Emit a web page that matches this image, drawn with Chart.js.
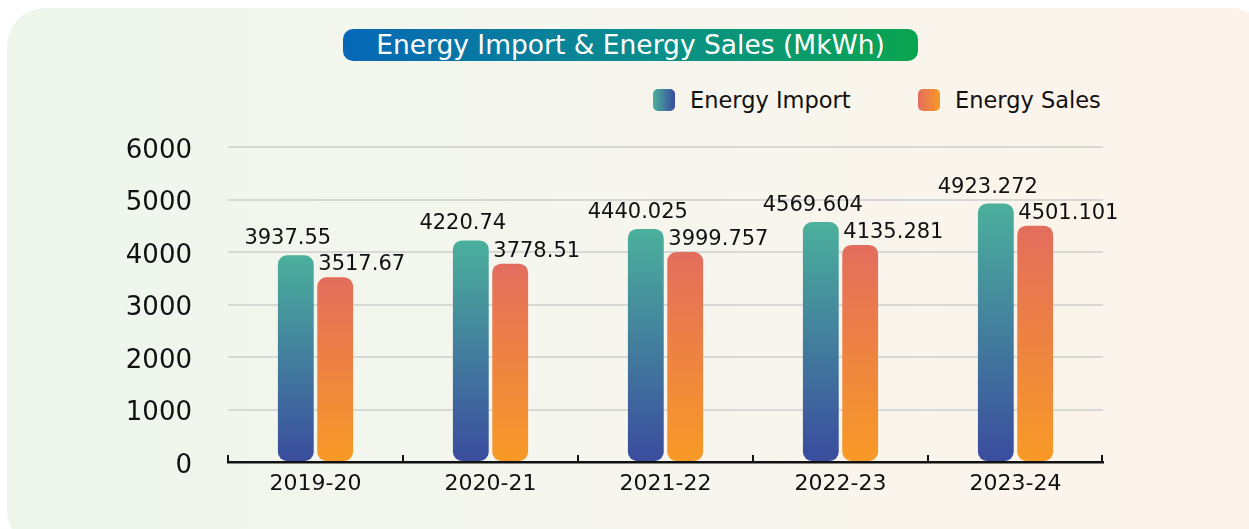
<!DOCTYPE html>
<html>
<head>
<meta charset="utf-8">
<script src="https://cdn.jsdelivr.net/npm/chart.js@4.4.1/dist/chart.umd.min.js"></script>
<style>
  html, body { margin: 0; padding: 0; background: #fff; }
  body { width: 1249px; height: 529px; overflow: hidden; position: relative; font-family: 'DejaVu Sans', sans-serif; }
  .card {
    position: absolute; left: 7px; top: 8px; width: 1262px; height: 540px;
    border-radius: 38px;
    background: linear-gradient(90deg, #eef6ec 0%, #f6f6ee 50%, #fdf3ea 100%);
  }
  .title {
    position: absolute; left: 343px; top: 29px; width: 575px; height: 32px;
    border-radius: 10px;
    background: linear-gradient(90deg, #0667b8 0%, #0a8f8a 55%, #0aa54f 100%);
    color: #fff; font-size: 26.5px; line-height: 31px; text-align: center; white-space: nowrap;
  }
  .legend { position: absolute; top: 86px; font-size: 22.5px; color: #111; line-height: 28px; }
  .legend span.sw { position: absolute; left: 0; top: 3px; width: 22px; height: 22px; border-radius: 5px; }
  .legend span.tx { position: absolute; left: 37px; top: 0; white-space: nowrap; }
  #wrap { position: absolute; left: 0; top: 0; width: 1249px; height: 529px; }
</style>
</head>
<body>
<div class="card"></div>
<div class="title">Energy Import &amp; Energy Sales (MkWh)</div>
<div class="legend" style="left:653px"><span class="sw" style="background:linear-gradient(90deg,#4bb09c,#3a4c9e)"></span><span class="tx">Energy Import</span></div>
<div class="legend" style="left:918px"><span class="sw" style="background:linear-gradient(90deg,#e36d5d,#f89a26)"></span><span class="tx">Energy Sales</span></div>
<div id="wrap"><canvas id="c" width="1249" height="529"></canvas></div>
<script>
// ── data ──────────────────────────────────────────────────────────────────────
const years        = ['2019-20', '2020-21', '2021-22', '2022-23', '2023-24'];
const energyImport = [3937.55, 4220.74, 4440.025, 4569.604, 4923.272];
const energySales  = [3517.67, 3778.51, 3999.757, 4135.281, 4501.101];
const yTicks       = [0, 1000, 2000, 3000, 4000, 5000, 6000];

const FONT = 'DejaVu Sans';

// vertical gradient per bar, from its top down to the axis
function barGrad(ctx, top, bottom) {
  const { chart, raw } = ctx;
  if (!chart.chartArea || raw == null) return top;
  const y = chart.scales.y;
  const g = chart.ctx.createLinearGradient(0, y.getPixelForValue(raw), 0, y.getPixelForValue(0));
  g.addColorStop(0, top);
  g.addColorStop(1, bottom);
  return g;
}

// values over the bars: import roughly centred, sales left-aligned on the bar
const valueLabels = {
  id: 'valueLabels',
  afterDatasetsDraw(chart) {
    const c = chart.ctx;
    c.save();
    c.font = `21px "${FONT}"`;
    c.fillStyle = '#111';
    c.textBaseline = 'alphabetic';
    chart.data.datasets.forEach((ds, di) => {
      chart.getDatasetMeta(di).data.forEach((bar, i) => {
        const txt = String(ds.data[i]);
        if (di === 0) { c.textAlign = 'center'; c.fillText(txt, bar.x - 8, bar.y - 11); }
        else { c.textAlign = 'left'; c.fillText(txt, bar.x - bar.width / 2 + 1, bar.y - 7); }
      });
    });
    c.restore();
  }
};

// small ticks standing up on the x axis at category borders
const axisTicks = {
  id: 'axisTicks',
  afterDraw(chart) {
    const { left, right, bottom } = chart.chartArea;
    const c = chart.ctx, n = years.length, w = (right - left) / n;
    c.save();
    c.strokeStyle = '#111';
    c.lineWidth = 2;
    for (let i = 0; i <= n; i++) {
      const x = Math.round(left + i * w) - (i === n ? 1 : 0);
      c.beginPath(); c.moveTo(x, bottom - 7); c.lineTo(x, bottom); c.stroke();
    }
    c.restore();
  }
};

new Chart(document.getElementById('c'), {
  type: 'bar',
  data: {
    labels: years,
    datasets: [
      {
        label: 'Energy Import', data: energyImport,
        backgroundColor: ctx => barGrad(ctx, '#4bb09c', '#3a4c9e'),
        borderRadius: 9, borderSkipped: false,
        categoryPercentage: 0.45, barPercentage: 0.91
      },
      {
        label: 'Energy Sales', data: energySales,
        backgroundColor: ctx => barGrad(ctx, '#e36d5d', '#f89a26'),
        borderRadius: 9, borderSkipped: false,
        categoryPercentage: 0.45, barPercentage: 0.91
      }
    ]
  },
  options: {
    responsive: false, animation: false,
    layout: { padding: { left: 0, right: 146, top: 147, bottom: 0 } },
    plugins: { legend: { display: false }, tooltip: { enabled: false }, title: { display: false } },
    scales: {
      x: {
        grid: { display: false, drawTicks: false },
        border: { display: true, color: '#111', width: 2.5 },
        ticks: { color: '#111', font: { family: FONT, size: 22 }, padding: 9 },
        afterFit: s => { s.height = 529 - 462; }
      },
      y: {
        min: 0, max: 6000,
        afterBuildTicks: s => { s.ticks = yTicks.map(v => ({ value: v })); },
        grid: { color: '#d8d8d4', lineWidth: 2, drawTicks: false },
        border: { display: false },
        ticks: { color: '#111', font: { family: FONT, size: 26 }, padding: 36, labelOffset: 4, callback: v => String(v) },
        afterFit: s => { s.width = 228; }
      }
    }
  },
  plugins: [valueLabels, axisTicks]
});
</script>
</body>
</html>
